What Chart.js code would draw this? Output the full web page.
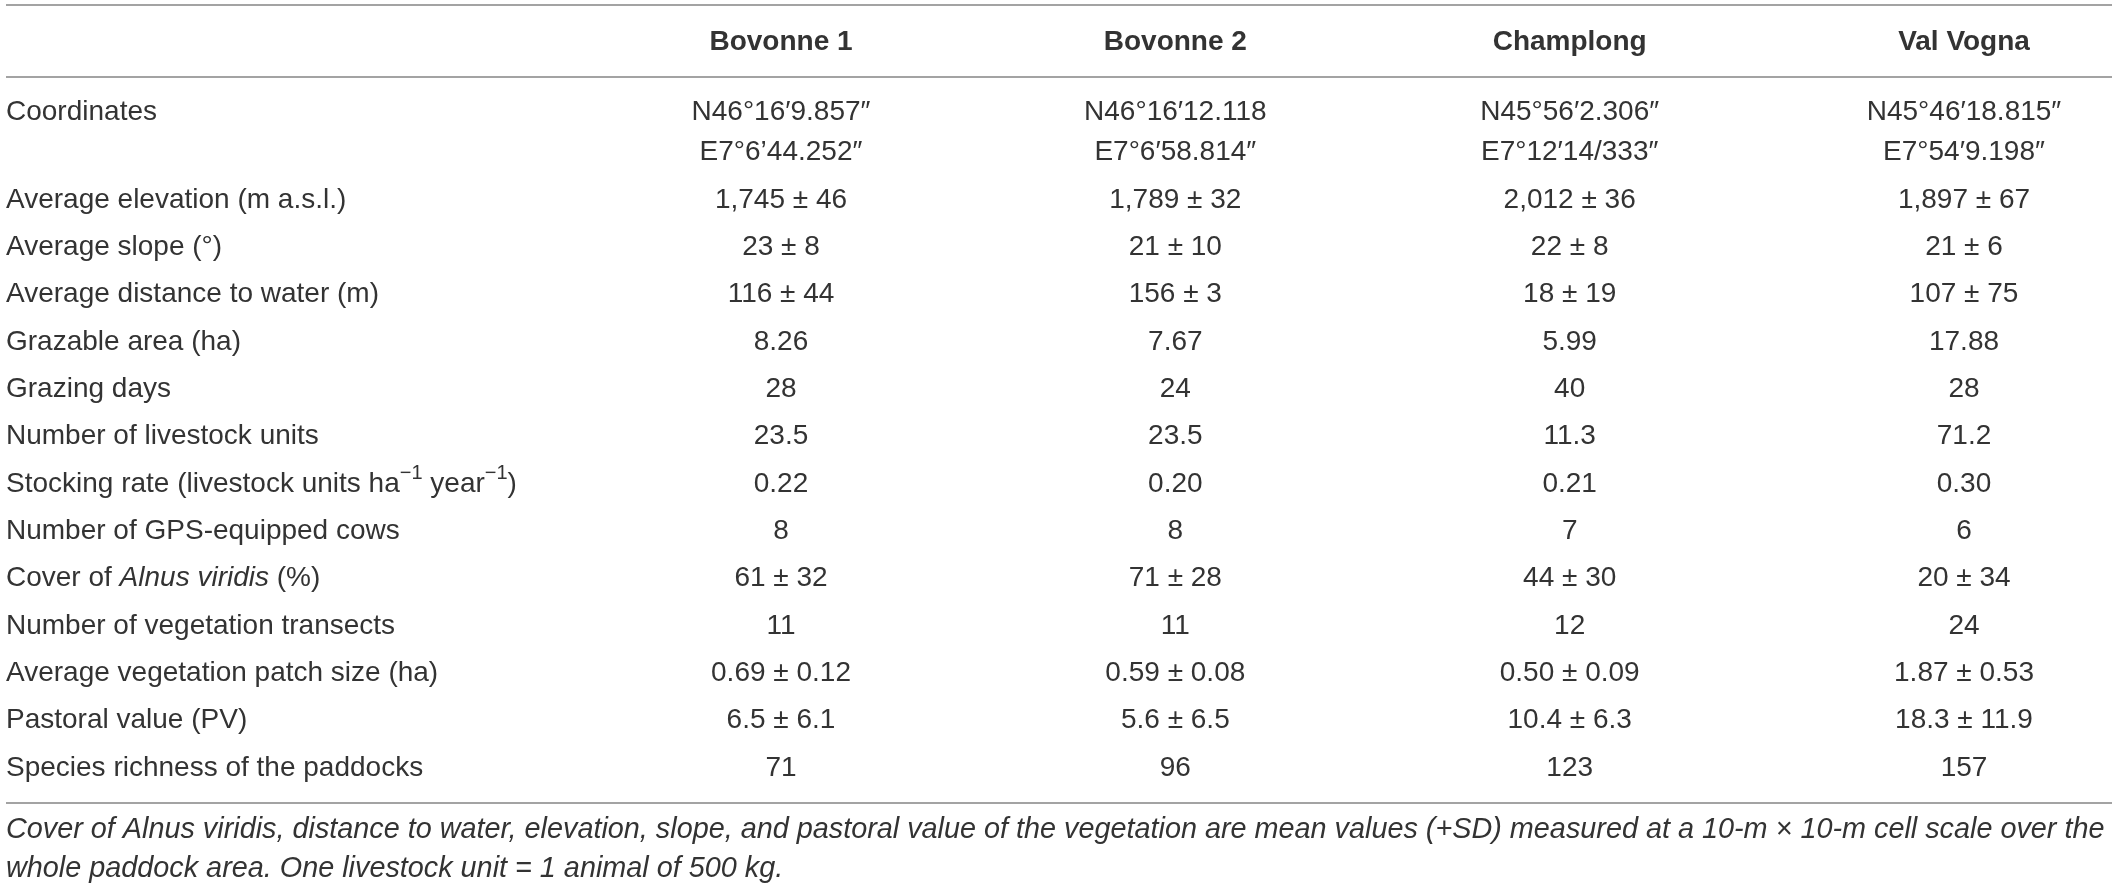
<!DOCTYPE html>
<html>
<head>
<meta charset="utf-8">
<script src="https://cdn.jsdelivr.net/npm/chart.js@4"></script>
<style>
  html, body { margin: 0; padding: 0; background: #fff; }
  #wrap { width: 2118px; height: 888px; position: relative; }
</style>
</head>
<body>
<div id="wrap"><canvas id="myChart"></canvas></div>
<script>
// Table data
const sites = ["Bovonne 1", "Bovonne 2", "Champlong", "Val Vogna"];

// *...* = italic, ^...^ = superscript
const rowLabels = [
  "Coordinates",
  "Average elevation (m a.s.l.)",
  "Average slope (°)",
  "Average distance to water (m)",
  "Grazable area (ha)",
  "Grazing days",
  "Number of livestock units",
  "Stocking rate (livestock units ha^−1^ year^−1^)",
  "Number of GPS-equipped cows",
  "Cover of *Alnus viridis* (%)",
  "Number of vegetation transects",
  "Average vegetation patch size (ha)",
  "Pastoral value (PV)",
  "Species richness of the paddocks",
];

const bovonne1 = ["N46°16′9.857″\nE7°6’44.252″", "1,745 ± 46", "23 ± 8", "116 ± 44", "8.26", "28", "23.5", "0.22", "8", "61 ± 32", "11", "0.69 ± 0.12", "6.5 ± 6.1", "71"];
const bovonne2 = ["N46°16′12.118\nE7°6′58.814″", "1,789 ± 32", "21 ± 10", "156 ± 3", "7.67", "24", "23.5", "0.20", "8", "71 ± 28", "11", "0.59 ± 0.08", "5.6 ± 6.5", "96"];
const champlong = ["N45°56′2.306″\nE7°12′14/333″", "2,012 ± 36", "22 ± 8", "18 ± 19", "5.99", "40", "11.3", "0.21", "7", "44 ± 30", "12", "0.50 ± 0.09", "10.4 ± 6.3", "123"];
const valVogna = ["N45°46′18.815″\nE7°54′9.198″", "1,897 ± 67", "21 ± 6", "107 ± 75", "17.88", "28", "71.2", "0.30", "6", "20 ± 34", "24", "1.87 ± 0.53", "18.3 ± 11.9", "157"];

const footnote = [
  "Cover of Alnus viridis, distance to water, elevation, slope, and pastoral value of the vegetation are mean values (+SD) measured at a 10-m × 10-m cell scale over the",
  "whole paddock area. One livestock unit = 1 animal of 500 kg.",
];

const columns = [bovonne1, bovonne2, champlong, valVogna];

const FONT = "'Liberation Sans', Arial, sans-serif";
const SIZE = 28;
const LINE = 40;
const TEXT = "#333333";
const RULE = "#a3a3a3";

// draw a label with *italic* and ^superscript^ parts
function drawRich(c, str, x, y) {
  const parts = str.split(/(\*[^*]+\*|\^[^^]+\^)/).filter(Boolean);
  let cx = x;
  parts.forEach((p) => {
    let txt = p, font = SIZE + "px " + FONT, dy = 0;
    if (p[0] === "*") {
      txt = p.slice(1, -1);
      font = "italic " + SIZE + "px " + FONT;
    } else if (p[0] === "^") {
      txt = p.slice(1, -1);
      font = "20px " + FONT;
      dy = -11;
    }
    c.font = font;
    c.fillText(txt, cx, y + dy);
    cx += c.measureText(txt).width;
  });
}

const tablePlugin = {
  id: "tableText",
  afterDraw(chart) {
    const c = chart.ctx;
    const area = chart.chartArea;
    const xs = chart.scales.x;
    const ys = chart.scales.y;
    c.save();

    // rules
    c.strokeStyle = RULE;
    c.lineWidth = 2;
    [area.top - 72, area.top, area.bottom].forEach((y) => {
      c.beginPath();
      c.moveTo(area.left, y);
      c.lineTo(area.right, y);
      c.stroke();
    });

    c.fillStyle = TEXT;
    c.textBaseline = "middle";

    // header
    c.textAlign = "center";
    c.font = "bold " + SIZE + "px " + FONT;
    sites.forEach((s, i) => {
      c.fillText(s, xs.getPixelForValue(i + 1), area.top - 35);
    });

    // cells
    c.font = SIZE + "px " + FONT;
    chart.data.datasets.forEach((ds, d) => {
      const meta = chart.getDatasetMeta(d);
      meta.data.forEach((pt, i) => {
        const lines = columns[d][i].split("\n");
        lines.forEach((ln, j) => {
          c.fillText(ln, pt.x, pt.y - (lines.length - 1 - j) * LINE);
        });
      });
    });

    // row labels
    c.textAlign = "left";
    rowLabels.forEach((lab, i) => {
      const nLines = Math.max(...columns.map((col) => col[i].split("\n").length));
      drawRich(c, lab, area.left, ys.getPixelForValue(i) - (nLines - 1) * LINE);
    });

    // footnote
    c.font = "italic 28.8px " + FONT;
    footnote.forEach((ln, j) => {
      c.fillText(ln, area.left, area.bottom + 27 + j * 39);
    });
    c.restore();
  },
};

const ctx = document.getElementById("myChart");

new Chart(ctx, {
  type: "scatter",
  data: {
    datasets: columns.map((col, k) => ({
      label: sites[k],
      data: col.map((v, i) => ({ x: k + 1, y: i })),
      pointRadius: 0,
      pointHoverRadius: 0,
    })),
  },
  options: {
    responsive: true,
    maintainAspectRatio: false,
    animation: false,
    events: [],
    layout: { padding: { top: 77, bottom: 85, left: 6, right: 6 } },
    plugins: {
      legend: { display: false },
      tooltip: { enabled: false },
    },
    scales: {
      x: { type: "linear", min: -0.9653, max: 4.3753, display: false },
      y: { type: "linear", reverse: true, min: -1.599, max: 13.74, display: false },
    },
  },
  plugins: [tablePlugin],
});
</script>
</body>
</html>
